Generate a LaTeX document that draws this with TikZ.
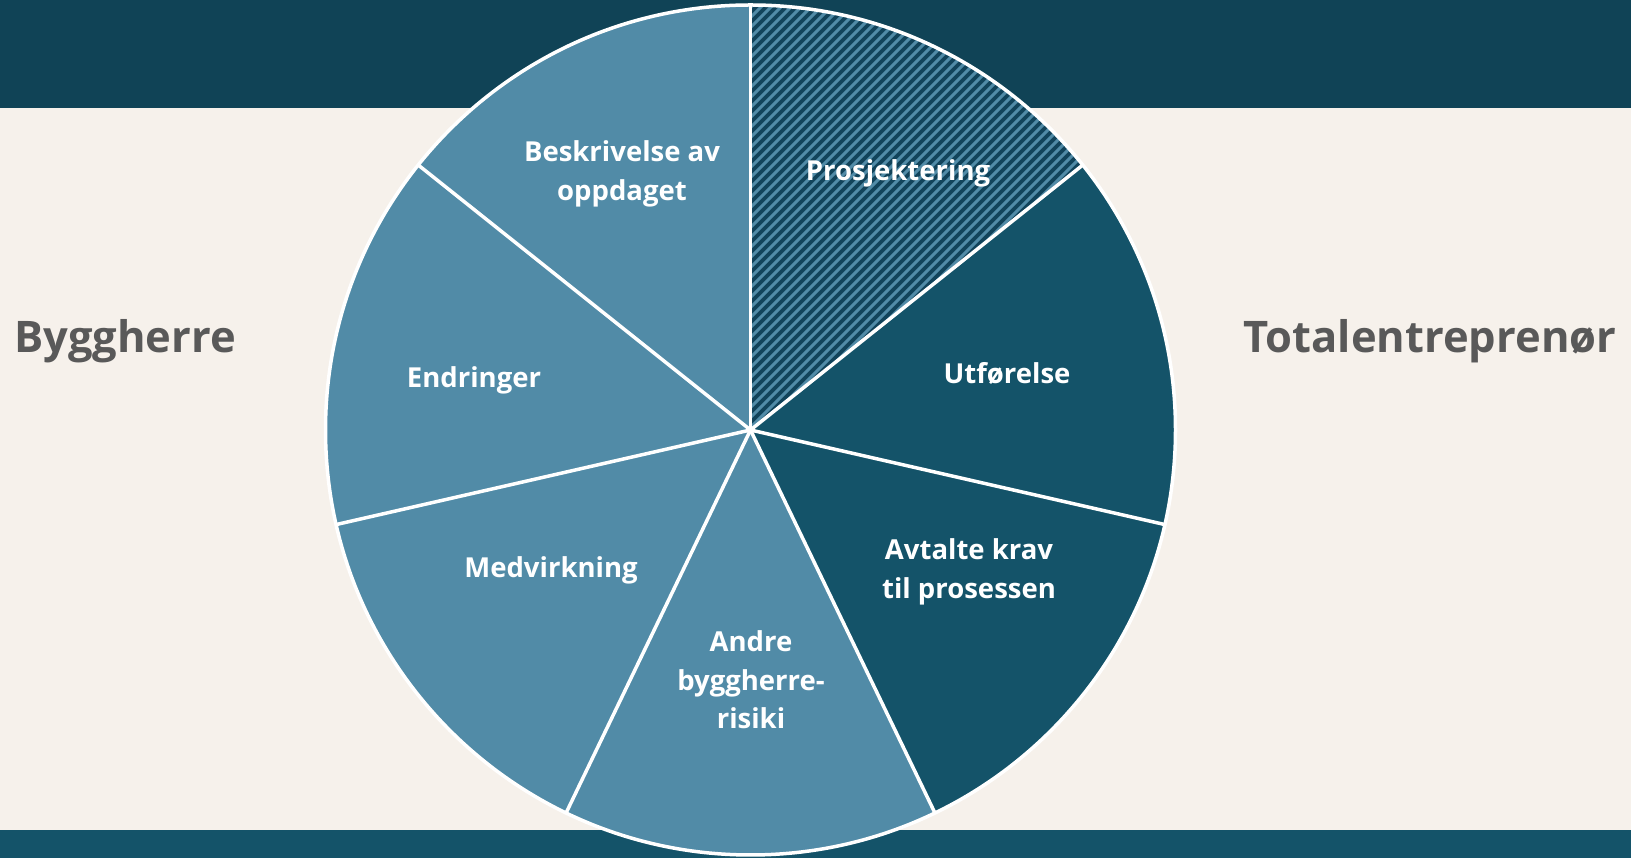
\documentclass[tikz,border=0pt]{standalone}
\usepackage{fontspec}
\setmainfont{Open Sans}
\begin{document}
\begin{tikzpicture}[x=1pt,y=1pt,
  lbl/.style={text=white,font=\bfseries\fontsize{27.5}{38.5}\selectfont,align=center,inner sep=0pt},
  side/.style={text=sidegray,font=\bfseries\fontsize{43.5}{52}\selectfont,inner sep=0pt}]
\definecolor{bgcream}{HTML}{F6F1EB}
\definecolor{topbar}{HTML}{104356}
\definecolor{darkseg}{HTML}{145369}
\definecolor{lightseg}{HTML}{518BA7}
\definecolor{hatchbase}{HTML}{11435A}
\definecolor{sidegray}{HTML}{595959}
% page and bands
\fill[bgcream] (0,0) rectangle (1631,858);
\fill[topbar] (0,750) rectangle (1631,858);
\fill[darkseg] (0,0) rectangle (1631,28);
\useasboundingbox (0,0) rectangle (1631,858);
% pie
\coordinate (c) at (750.5,428);
\def\R{425}
\newcommand\pieslice[3]{% start angle, end angle, colour
  \fill[#3] (c) -- ++(#1:\R) arc[start angle=#1,end angle=#2,radius=\R] -- cycle;}
\pieslice{38.571429}{-12.857143}{darkseg}
\pieslice{-12.857143}{-64.285714}{darkseg}
\pieslice{-64.285714}{-115.714286}{lightseg}
\pieslice{-115.714286}{-167.142857}{lightseg}
\pieslice{192.857143}{141.428571}{lightseg}
\pieslice{141.428571}{90}{lightseg}
% hatched slice
\begin{scope}
  \clip (c) -- ++(90:\R) arc[start angle=90,end angle=38.571429,radius=\R] -- cycle;
  \fill[hatchbase] (c) circle[radius=\R];
  \foreach \x in {290,300,...,1170}
    \draw[lightseg,line width=2.9pt] (\x,400) -- ++(520,520);
\end{scope}
% slice borders
\foreach \a in {90,38.571429,-12.857143,-64.285714,-115.714286,-167.142857,141.428571}
  \draw[white,line width=3.5pt] (c) -- ++(\a:\R);
\draw[white,line width=3.5pt] (c) circle[radius=\R];
% labels
\node[lbl] (p1) at (898,685) {Prosjektering};
\node[lbl] (p2) at (1007,484) {Utførelse};
\node[lbl] (p3) at (969,286) {Avtalte krav\\til prosessen};
\node[lbl] (p4) at (751,178) {Andre\\byggherre-\\risiki};
\node[lbl] (p5) at (551,288) {Medvirkning};
\node[lbl] (p6) at (474,478) {Endringer};
\node[lbl] (p7) at (622,684) {Beskrivelse av\\oppdaget};
\node[side] (bh) at (125,517) {Byggherre};
\node[side] (te) at (1430,517) {Totalentreprenør};
\end{tikzpicture}
\end{document}
